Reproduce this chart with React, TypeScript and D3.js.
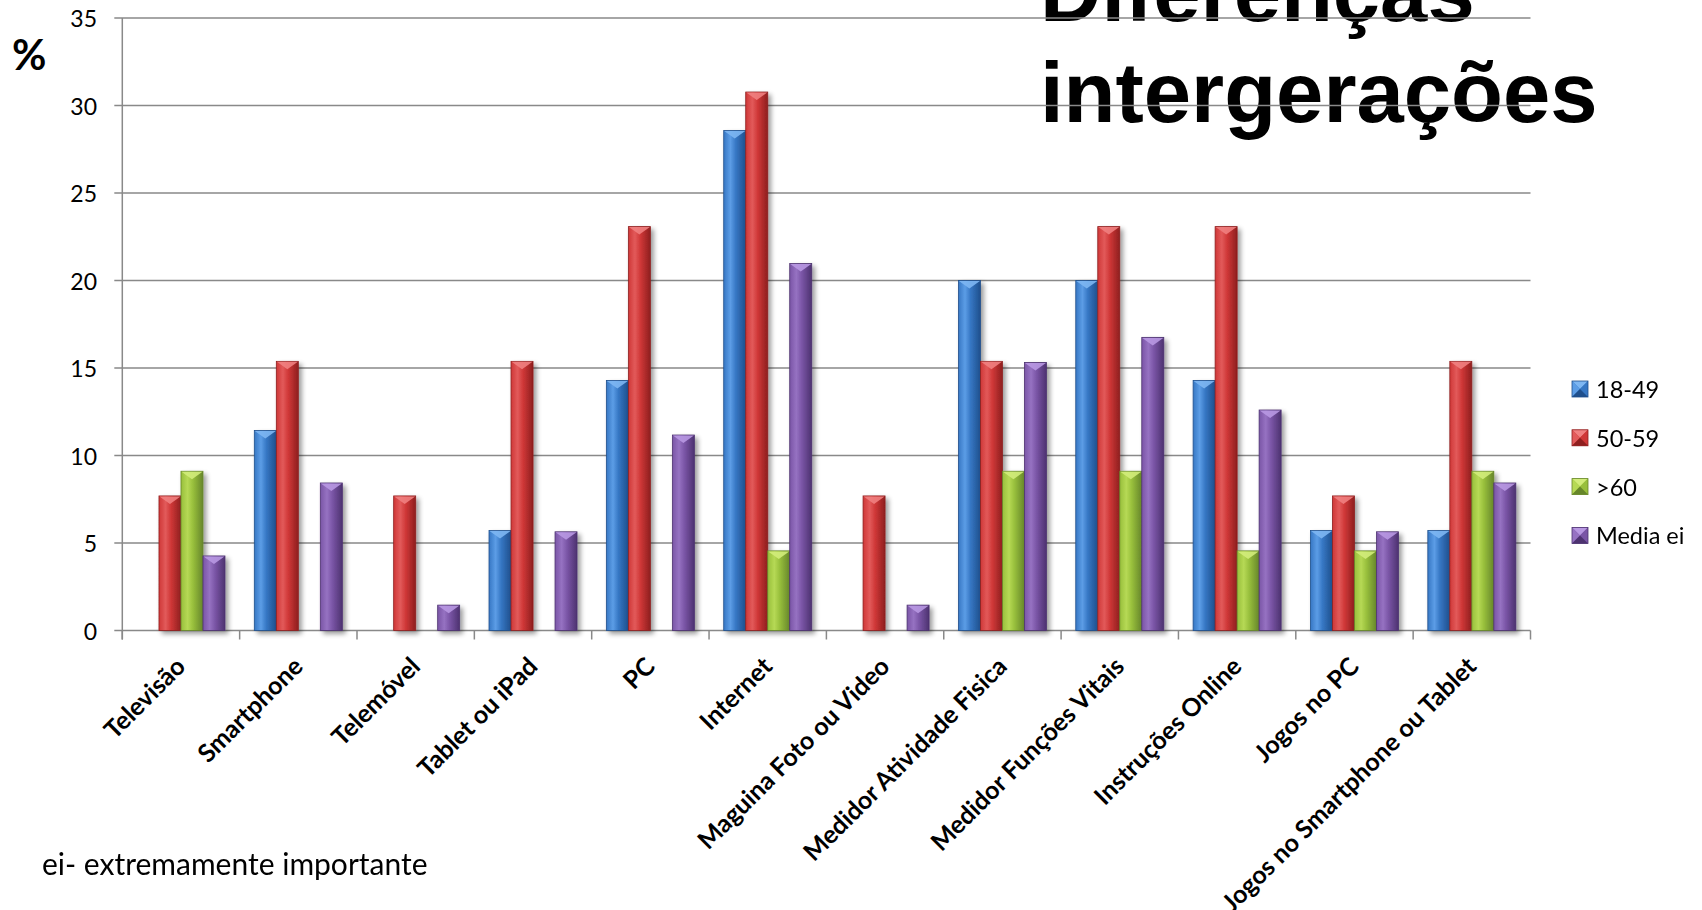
import React from "react";
import * as d3 from "d3";

const categories = [
  "Televisão",
  "Smartphone",
  "Telemóvel",
  "Tablet ou iPad",
  "PC",
  "Internet",
  "Maguina Foto ou Video",
  "Medidor Atividade Fisica",
  "Medidor Funções Vitais",
  "Instruções Online",
  "Jogos no PC",
  "Jogos no Smartphone ou Tablet",
];
const seriesNames = ["18-49", "50-59", ">60", "Media ei"];
const s1849 = [0, 11.43, 0, 5.71, 14.29, 28.57, 0, 20, 20, 14.29, 5.71, 5.71];
const s5059 = [7.69, 15.38, 7.69, 15.38, 23.08, 30.77, 7.69, 15.38, 23.08, 23.08, 7.69, 15.38];
const s60 = [9.1, 0, 0, 0, 0, 4.55, 0, 9.1, 9.1, 4.55, 4.55, 9.1];
const sMedia = [4.26, 8.43, 1.45, 5.64, 11.17, 20.97, 1.45, 15.32, 16.75, 12.6, 5.64, 8.43];
const yTicks = [0, 5, 10, 15, 20, 25, 30, 35];
const titleLines = ["Diferenças", "intergerações"];

const palette = [
  { mid: "#3677c4", light: "#5c9de6", dark: "#1f4f8c", top: "#7db6f2" },
  { mid: "#cf3737", light: "#e25a5a", dark: "#8e1f1f", top: "#f08080" },
  { mid: "#98bf3c", light: "#b6d955", dark: "#66862a", top: "#d2ec7a" },
  { mid: "#7a55a6", light: "#9672c2", dark: "#4d3270", top: "#b898e2" },
];

export default function App() {
  const W = 1702;
  const H = 910;
  const x0 = 122.3;
  const x1 = 1530.5;
  const yBase = 630.5;
  const yTop = 18;
  const values = [s1849, s5059, s60, sMedia];

  const x = d3.scaleBand<string>().domain(categories).range([x0, x1]).paddingInner(0).paddingOuter(0);
  const bw = x.bandwidth();
  const xs = d3.scaleBand<string>().domain(seriesNames).range([bw * 0.125, bw * 0.875]).padding(0);
  const y = d3.scaleLinear().domain([0, 35]).range([yBase, yTop]);
  const barW = xs.bandwidth();

  const boundaries = categories.map((c) => x(c) as number).concat([x1]);
  const gridColor = "#898989";

  return (
    <div style={{ position: "absolute", left: 0, top: 0 }}>
      <svg width={W} height={H} viewBox={`0 0 ${W} ${H}`} style={{ display: "block", background: "#fff" }}>
        <defs>
          {palette.map((p, i) => (
            <linearGradient key={i} id={`bar${i}`} x1="0" x2="1" y1="0" y2="0">
              <stop offset="0%" stopColor={p.mid} />
              <stop offset="30%" stopColor={p.light} />
              <stop offset="55%" stopColor={p.mid} />
              <stop offset="100%" stopColor={p.dark} />
            </linearGradient>
          ))}
          <filter id="shadow" x="-30%" y="-10%" width="160%" height="130%">
            <feGaussianBlur in="SourceAlpha" stdDeviation="2.5" />
            <feOffset dx="3" dy="3" result="off" />
            <feComponentTransfer>
              <feFuncA type="linear" slope="0.4" />
            </feComponentTransfer>
            <feMerge>
              <feMergeNode />
              <feMergeNode in="SourceGraphic" />
            </feMerge>
          </filter>
        </defs>

        {/* title (drawn below gridlines) */}
        <text
          x={1040}
          fontFamily="'Liberation Sans', Arial, sans-serif"
          fontWeight="bold"
          fontSize={85}
          fill="#000"
        >
          <tspan x={1040} y={20.5}>{titleLines[0]}</tspan>
          <tspan x={1040} y={121.7}>{titleLines[1]}</tspan>
        </text>

        {/* % label */}
        <text x={12} y={70} fontFamily="Lato, sans-serif" fontWeight="bold" fontSize={42} fill="#000">
          %
        </text>

        {/* gridlines + y ticks */}
        {yTicks.map((t) => (
          <g key={t}>
            <line x1={x0 - 8} x2={x1} y1={y(t)} y2={y(t)} stroke={gridColor} strokeWidth={1.5} />
            <text
              x={97}
              y={y(t)}
              textAnchor="end"
              dominantBaseline="central"
              fontFamily="Lato, sans-serif"
              fontSize={23}
              fill="#000"
            >
              {t}
            </text>
          </g>
        ))}
        {/* y axis */}
        <line x1={x0} x2={x0} y1={yTop} y2={yBase + 9} stroke={gridColor} strokeWidth={1.5} />
        {/* x ticks */}
        {boundaries.map((b, i) => (
          <line key={i} x1={b} x2={b} y1={yBase} y2={yBase + 9} stroke={gridColor} strokeWidth={1.5} />
        ))}

        {/* bars */}
        <g filter="url(#shadow)">
          {categories.map((c, ci) =>
            seriesNames.map((s, si) => {
              const v = values[si][ci];
              if (!v) return null;
              const bx = (x(c) as number) + (xs(s) as number);
              const by = y(v);
              const h = yBase - by;
              const p = palette[si];
              const capH = Math.min(8, h / 2);
              return (
                <g key={`${ci}-${si}`}>
                  <rect x={bx} y={by} width={barW} height={h} fill={`url(#bar${si})`} stroke={p.dark} strokeWidth={0.8} />
                  <path
                    d={`M${bx + 0.5},${by + 0.5} L${bx + barW - 0.5},${by + 0.5} L${bx + barW / 2},${by + capH} Z`}
                    fill={p.top}
                    opacity={0.9}
                  />
                </g>
              );
            })
          )}
        </g>

        {/* x labels */}
        {categories.map((c) => {
          const cx = (x(c) as number) + bw / 2 + 6;
          const cy = 668;
          return (
            <text
              key={c}
              transform={`translate(${cx},${cy}) rotate(-45)`}
              textAnchor="end"
              fontFamily="Lato, sans-serif"
              fontWeight="bold"
              fontSize={25}
              fill="#000"
            >
              {c}
            </text>
          );
        })}

        {/* legend */}
        {seriesNames.map((s, i) => {
          const cy = 389 + i * 48.8;
          const lx = 1572;
          const sz = 16;
          const p = palette[i];
          const t = cy - sz / 2;
          const cxm = lx + sz / 2;
          return (
            <g key={s}>
              <rect x={lx} y={t} width={sz} height={sz} fill={p.mid} />
              <path d={`M${lx},${t} L${lx + sz},${t} L${cxm},${cy} Z`} fill={p.top} />
              <path d={`M${lx},${t} L${cxm},${cy} L${lx},${t + sz} Z`} fill={p.light} />
              <path d={`M${lx + sz},${t} L${cxm},${cy} L${lx + sz},${t + sz} Z`} fill={p.mid} />
              <path d={`M${lx},${t + sz} L${cxm},${cy} L${lx + sz},${t + sz} Z`} fill={p.dark} />
              <rect x={lx} y={t} width={sz} height={sz} fill="none" stroke={p.dark} strokeWidth={0.8} />
              <text x={lx + 24} y={cy} dominantBaseline="central" fontFamily="Lato, sans-serif" fontSize={23.5} fill="#000">
                {s}
              </text>
            </g>
          );
        })}

        {/* footnote */}
        <text x={42} y={875} fontFamily="Lato, sans-serif" fontSize={30} fill="#000">
          ei- extremamente importante
        </text>
      </svg>
    </div>
  );
}
